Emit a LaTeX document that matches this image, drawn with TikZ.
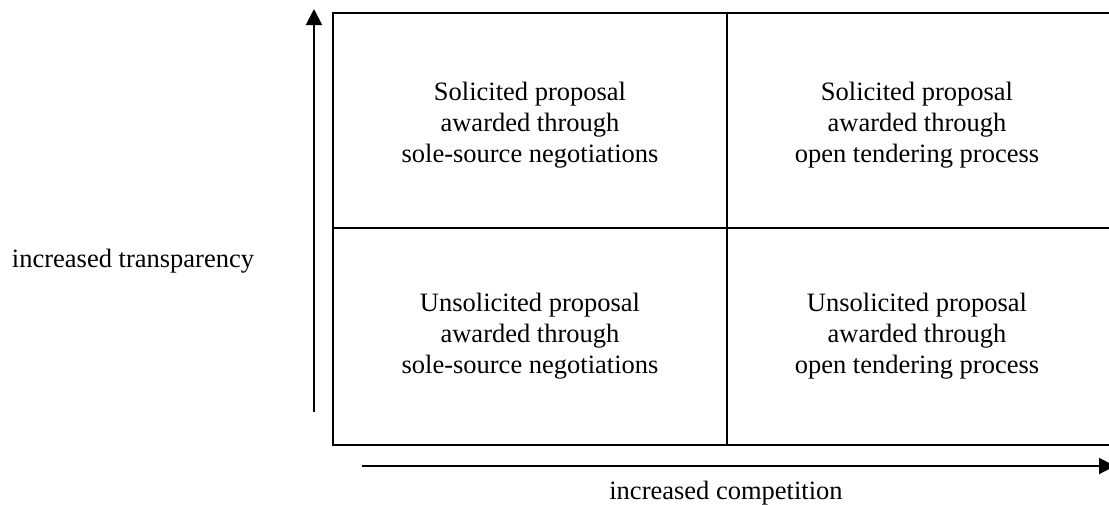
\documentclass[tikz,border=0pt]{standalone}
\usepackage{fontspec}
\setmainfont{Liberation Serif}
\usetikzlibrary{arrows.meta}
\begin{document}
\begin{tikzpicture}[x=1pt,y=-1pt,
  frame/.style={line width=2pt},
  axis/.style={line width=2pt,-{Triangle[length=16pt,width=16pt]}},
  cell/.style={align=center,font=\fontsize{26.5}{31}\selectfont,inner sep=0pt},
  lab/.style={font=\fontsize{26.5}{31}\selectfont,inner sep=0pt,anchor=base}]
\useasboundingbox (0,0) rectangle (1109,504);
% grid
\coordinate (tl) at (333,13);
\coordinate (br) at (1111,445);
\coordinate (mt) at (727,13);
\coordinate (mb) at (727,445);
\coordinate (ml) at (333,228);
\coordinate (mr) at (1111,228);
\draw[frame] (tl) rectangle (br);
\draw[frame] (mt) -- (mb);
\draw[frame] (ml) -- (mr);
% cells
\node[cell] (q1) at (530,125) {Solicited proposal\\awarded through\\sole-source negotiations};
\node[cell] (q2) at (917,125) {Solicited proposal\\awarded through\\open tendering process};
\node[cell] (q3) at (530,336) {Unsolicited proposal\\awarded through\\sole-source negotiations};
\node[cell] (q4) at (917,336) {Unsolicited proposal\\awarded through\\open tendering process};
% axes
\coordinate (vs) at (314,412);
\coordinate (ve) at (314,9);
\coordinate (hs) at (362,466);
\coordinate (he) at (1115,466);
\draw[axis] (vs) -- (ve);
\draw[axis] (hs) -- (he);
\node[lab] (ylab) at (133,267) {increased transparency};
\node[lab] (xlab) at (726,499) {increased competition};
\end{tikzpicture}
\end{document}
